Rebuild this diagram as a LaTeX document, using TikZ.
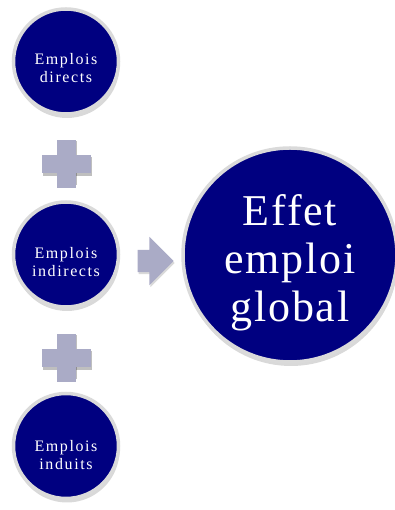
\documentclass[tikz,border=0pt]{standalone}
\usepackage{fontspec}
\setmainfont{Liberation Serif}
\newfontfamily\smallspaced[LetterSpace=10]{Liberation Serif}
\newfontfamily\bigspaced[LetterSpace=4]{Liberation Serif}
\usetikzlibrary{shapes.arrows,shadows}
\definecolor{navyblue}{RGB}{0,0,128}
\definecolor{ringgray}{RGB}{218,218,218}
\definecolor{plusgray}{RGB}{170,171,198}
\begin{document}
\begin{tikzpicture}
            [x=1pt,y=1pt,
             bubble/.style ={circle,draw=ringgray,line width=3.5pt,fill=navyblue,
                             minimum size=105pt,inner sep=0pt,
                             drop shadow={shadow xshift=1pt,shadow yshift=-4pt,opacity=0.3}},
             bigbubble/.style ={bubble,minimum size=214pt},
             label/.style ={text=white,align=center,font=\smallspaced\fontsize{16}{17.5}\selectfont},
             biglabel/.style ={text=white,align=center,font=\bigspaced\fontsize{44}{48}\selectfont},
             plussign/.style ={fill=plusgray},
             bigarrow/.style ={single arrow,fill=plusgray,minimum height=36pt,
                               inner xsep=0pt,inner ysep=11pt,
                               single arrow head extend=13pt,
                               drop shadow={shadow xshift=1pt,shadow yshift=-2pt,opacity=0.3}}]
            \useasboundingbox (0,0) rectangle (395,510);
            \node[bubble] (direct) at (66,448.5){};
            \node[bubble] (indirect) at (66,255.5){};
            \node[bubble] (induced) at (66,64){};
            \node[bigbubble] (global) at (290,255){};
            \node[label] (directtxt) at (66,442){Emplois\\directs};
            \node[label] (indirecttxt) at (66,248){Emplois\\indirects};
            \node[label] (inducedtxt) at (66,55){Emplois\\induits};
            \node[biglabel] (globaltxt) at (290,247){Effet\\emploi\\global};
            % plus signs between the bubbles
            \foreach \py in {346,152}{
              \fill[black,opacity=0.25] (58,\py-21) rectangle (77,\py+23);
              \fill[black,opacity=0.25] (43,\py-12) rectangle (92,\py+7);
              \fill[plussign] (57,\py-24) rectangle (76,\py+24);
              \fill[plussign] (42,\py-9) rectangle (91,\py+9);
            }
            \node[bigarrow] (arrow) at (150,249){};
        \end{tikzpicture}
\end{document}
